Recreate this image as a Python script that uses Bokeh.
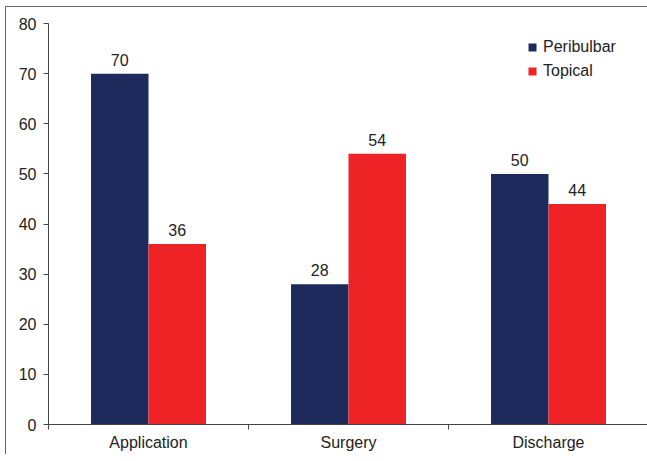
from bokeh.plotting import figure
from bokeh.models import Range1d, FixedTicker, ColumnDataSource, Legend, LegendItem
from bokeh.core.properties import value
from bokeh.embed import file_html
from bokeh.resources import INLINE

categories = ["Application", "Surgery", "Discharge"]
peribulbar = [70, 28, 50]
topical = [36, 54, 44]
y_ticks = [0, 10, 20, 30, 40, 50, 60, 70, 80]

NAVY = "#1f2a5c"
RED = "#ee2325"
FONT = "Liberation Sans"
TXT = "#222222"
FS = "16px"

bw = 0.2875
idx = list(range(len(categories)))
x_p = [i + 0.5 - bw / 2 for i in idx]
x_t = [i + 0.5 + bw / 2 for i in idx]

p = figure(width=642, height=448, output_backend="svg", toolbar_location=None,
           x_range=Range1d(0, 3), y_range=Range1d(0, 80),
           min_border_left=42, min_border_right=0, min_border_top=16, min_border_bottom=31)
p.styles = {"margin-left": "5px", "margin-top": "6px",
            "border-left": "1px solid #666666", "border-top": "1px solid #666666"}
p.outline_line_color = None
p.grid.visible = False
p.background_fill_color = "white"
p.border_fill_color = "white"

src_p = ColumnDataSource(dict(x=x_p, top=peribulbar, lab=[str(v) for v in peribulbar]))
src_t = ColumnDataSource(dict(x=x_t, top=topical, lab=[str(v) for v in topical]))

r1 = p.vbar(x="x", top="top", width=bw, bottom=0, source=src_p, fill_color=NAVY, line_color=None)
r2 = p.vbar(x="x", top="top", width=bw, bottom=0, source=src_t, fill_color=RED, line_color=None)

for s in (src_p, src_t):
    p.text(x="x", y="top", text="lab", source=s, text_align="center", text_baseline="bottom",
           y_offset=-8, text_font=value(FONT), text_font_size=FS, text_color=TXT)

# axes
xa = p.xaxis[0]
xa.ticker = FixedTicker(ticks=[i + 0.5 for i in idx], minor_ticks=[0, 1, 2, 3])
xa.major_label_overrides = {i + 0.5: c for i, c in zip(idx, categories)}
xa.major_tick_out = 0
xa.major_tick_in = 0
xa.minor_tick_out = 5
xa.minor_tick_in = 0
xa.major_label_standoff = 4
xa.axis_line_color = "#444444"
xa.minor_tick_line_color = "#444444"
xa.major_label_text_font = FONT
xa.major_label_text_font_size = FS
xa.major_label_text_color = TXT

ya = p.yaxis[0]
ya.ticker = FixedTicker(ticks=y_ticks, minor_ticks=[])
ya.major_tick_out = 5
ya.major_tick_in = 0
ya.minor_tick_line_color = None
ya.axis_line_color = "#444444"
ya.major_tick_line_color = "#444444"
ya.major_label_standoff = 7
ya.major_label_text_font = FONT
ya.major_label_text_font_size = FS
ya.major_label_text_color = TXT

legend = Legend(items=[LegendItem(label="Peribulbar", renderers=[r1]),
                       LegendItem(label="Topical", renderers=[r2])],
                location=(479, 343), padding=0, margin=0, spacing=4,
                glyph_width=10, glyph_height=10, label_height=20, label_standoff=6,
                label_text_font=FONT, label_text_font_size=FS, label_text_color=TXT,
                border_line_color=None, background_fill_alpha=0)
p.add_layout(legend)

open("out.html", "w").write(file_html(p, INLINE))
